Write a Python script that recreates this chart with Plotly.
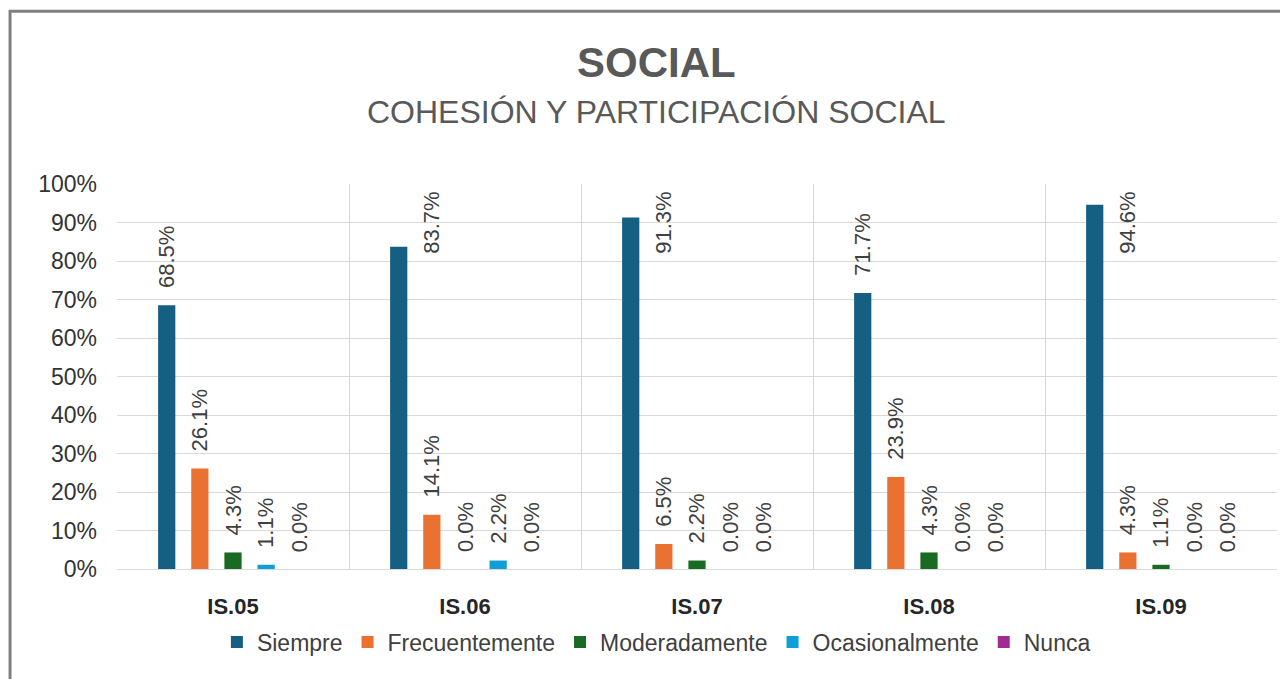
import plotly.graph_objects as go

categories = ["IS.05", "IS.06", "IS.07", "IS.08", "IS.09"]
series_names = ["Siempre", "Frecuentemente", "Moderadamente", "Ocasionalmente", "Nunca"]
siempre = [0.685, 0.837, 0.913, 0.717, 0.946]
frecuentemente = [0.261, 0.141, 0.065, 0.239, 0.043]
moderadamente = [0.043, 0.000, 0.022, 0.043, 0.011]
ocasionalmente = [0.011, 0.022, 0.000, 0.000, 0.000]
nunca = [0.000, 0.000, 0.000, 0.000, 0.000]
colors = ["#156082", "#E97132", "#196B24", "#0F9ED5", "#A02B93"]

series = [siempre, frecuentemente, moderadamente, ocasionalmente, nunca]

# la página tiene 8 px de margen del body: la figura es 8 px menor
W, H = 1280, 671

fig = go.Figure()
for name, vals, col in zip(series_names, series, colors):
    fig.add_trace(go.Bar(name=name, x=categories, y=vals, marker_color=col,
                         marker_line_width=0, hoverinfo="x+y+name"))

# etiquetas de datos giradas
n = len(series)
annotations = []
for j, vals in enumerate(series):
    for i, v in enumerate(vals):
        xpos = i + (j - (n - 1) / 2) / 7
        label = f"{v * 100:.1f}%"
        if v > 0.8:
            annotations.append(dict(x=xpos, y=1.0, xref="x", yref="y", text=label,
                                    textangle=-90, showarrow=False, xanchor="center",
                                    yanchor="top", xshift=32, yshift=-6,
                                    font=dict(size=22, color="#404040")))
        else:
            annotations.append(dict(x=xpos, y=v, xref="x", yref="y", text=label,
                                    textangle=-90, showarrow=False, xanchor="center",
                                    yanchor="bottom", yshift=15,
                                    font=dict(size=22, color="#404040")))

annotations.append(dict(text="COHESIÓN Y PARTICIPACIÓN SOCIAL", xref="paper", yref="paper",
                        x=0.465, y=1.187, xanchor="center", yanchor="middle", showarrow=False,
                        font=dict(family="Liberation Sans, Arial", size=32, color="#595959")))

fig.update_layout(
    width=W, height=H,
    barmode="group", bargap=0.2857, bargroupgap=0.48,
    title=dict(text="<b>SOCIAL</b>", x=0.465, xref="paper", y=1 - 54 / H, yref="container",
               xanchor="center", yanchor="middle",
               font=dict(family="Liberation Sans, Arial", size=42, color="#595959")),
    annotations=annotations,
    legend=dict(orientation="h", x=0.465, xanchor="center", y=-0.19, yanchor="middle",
                font=dict(family="Liberation Sans, Arial", size=23, color="#404040"),
                itemclick=False, traceorder="normal"),
    margin=dict(l=109, r=11, t=176, b=110),
    paper_bgcolor="white", plot_bgcolor="white",
    font=dict(family="Liberation Sans, Arial", color="#404040"),
    shapes=[dict(type="rect", xref="paper", yref="paper", x0=-0.0922, x1=1.05, y0=-0.33, y1=1.449,
                 line=dict(color="#808080", width=3), fillcolor="rgba(0,0,0,0)", layer="below")],
)
fig.update_xaxes(showgrid=True, gridcolor="#D9D9D9", gridwidth=1, tickson="boundaries",
                 ticks="", showline=False, range=[-0.5, 4.5], ticklabelstandoff=22,
                 tickfont=dict(family="Liberation Sans, Arial", size=22, color="#262626",
                               weight="bold"))
fig.update_yaxes(range=[0, 1], dtick=0.1, tickformat=".0%", showgrid=True, gridcolor="#D9D9D9",
                 gridwidth=1, zeroline=True, zerolinecolor="#D9D9D9", zerolinewidth=1,
                 ticklabelstandoff=19,
                 tickfont=dict(family="Liberation Sans, Arial", size=23, color="#333333"))

fig.write_html("out.html")
